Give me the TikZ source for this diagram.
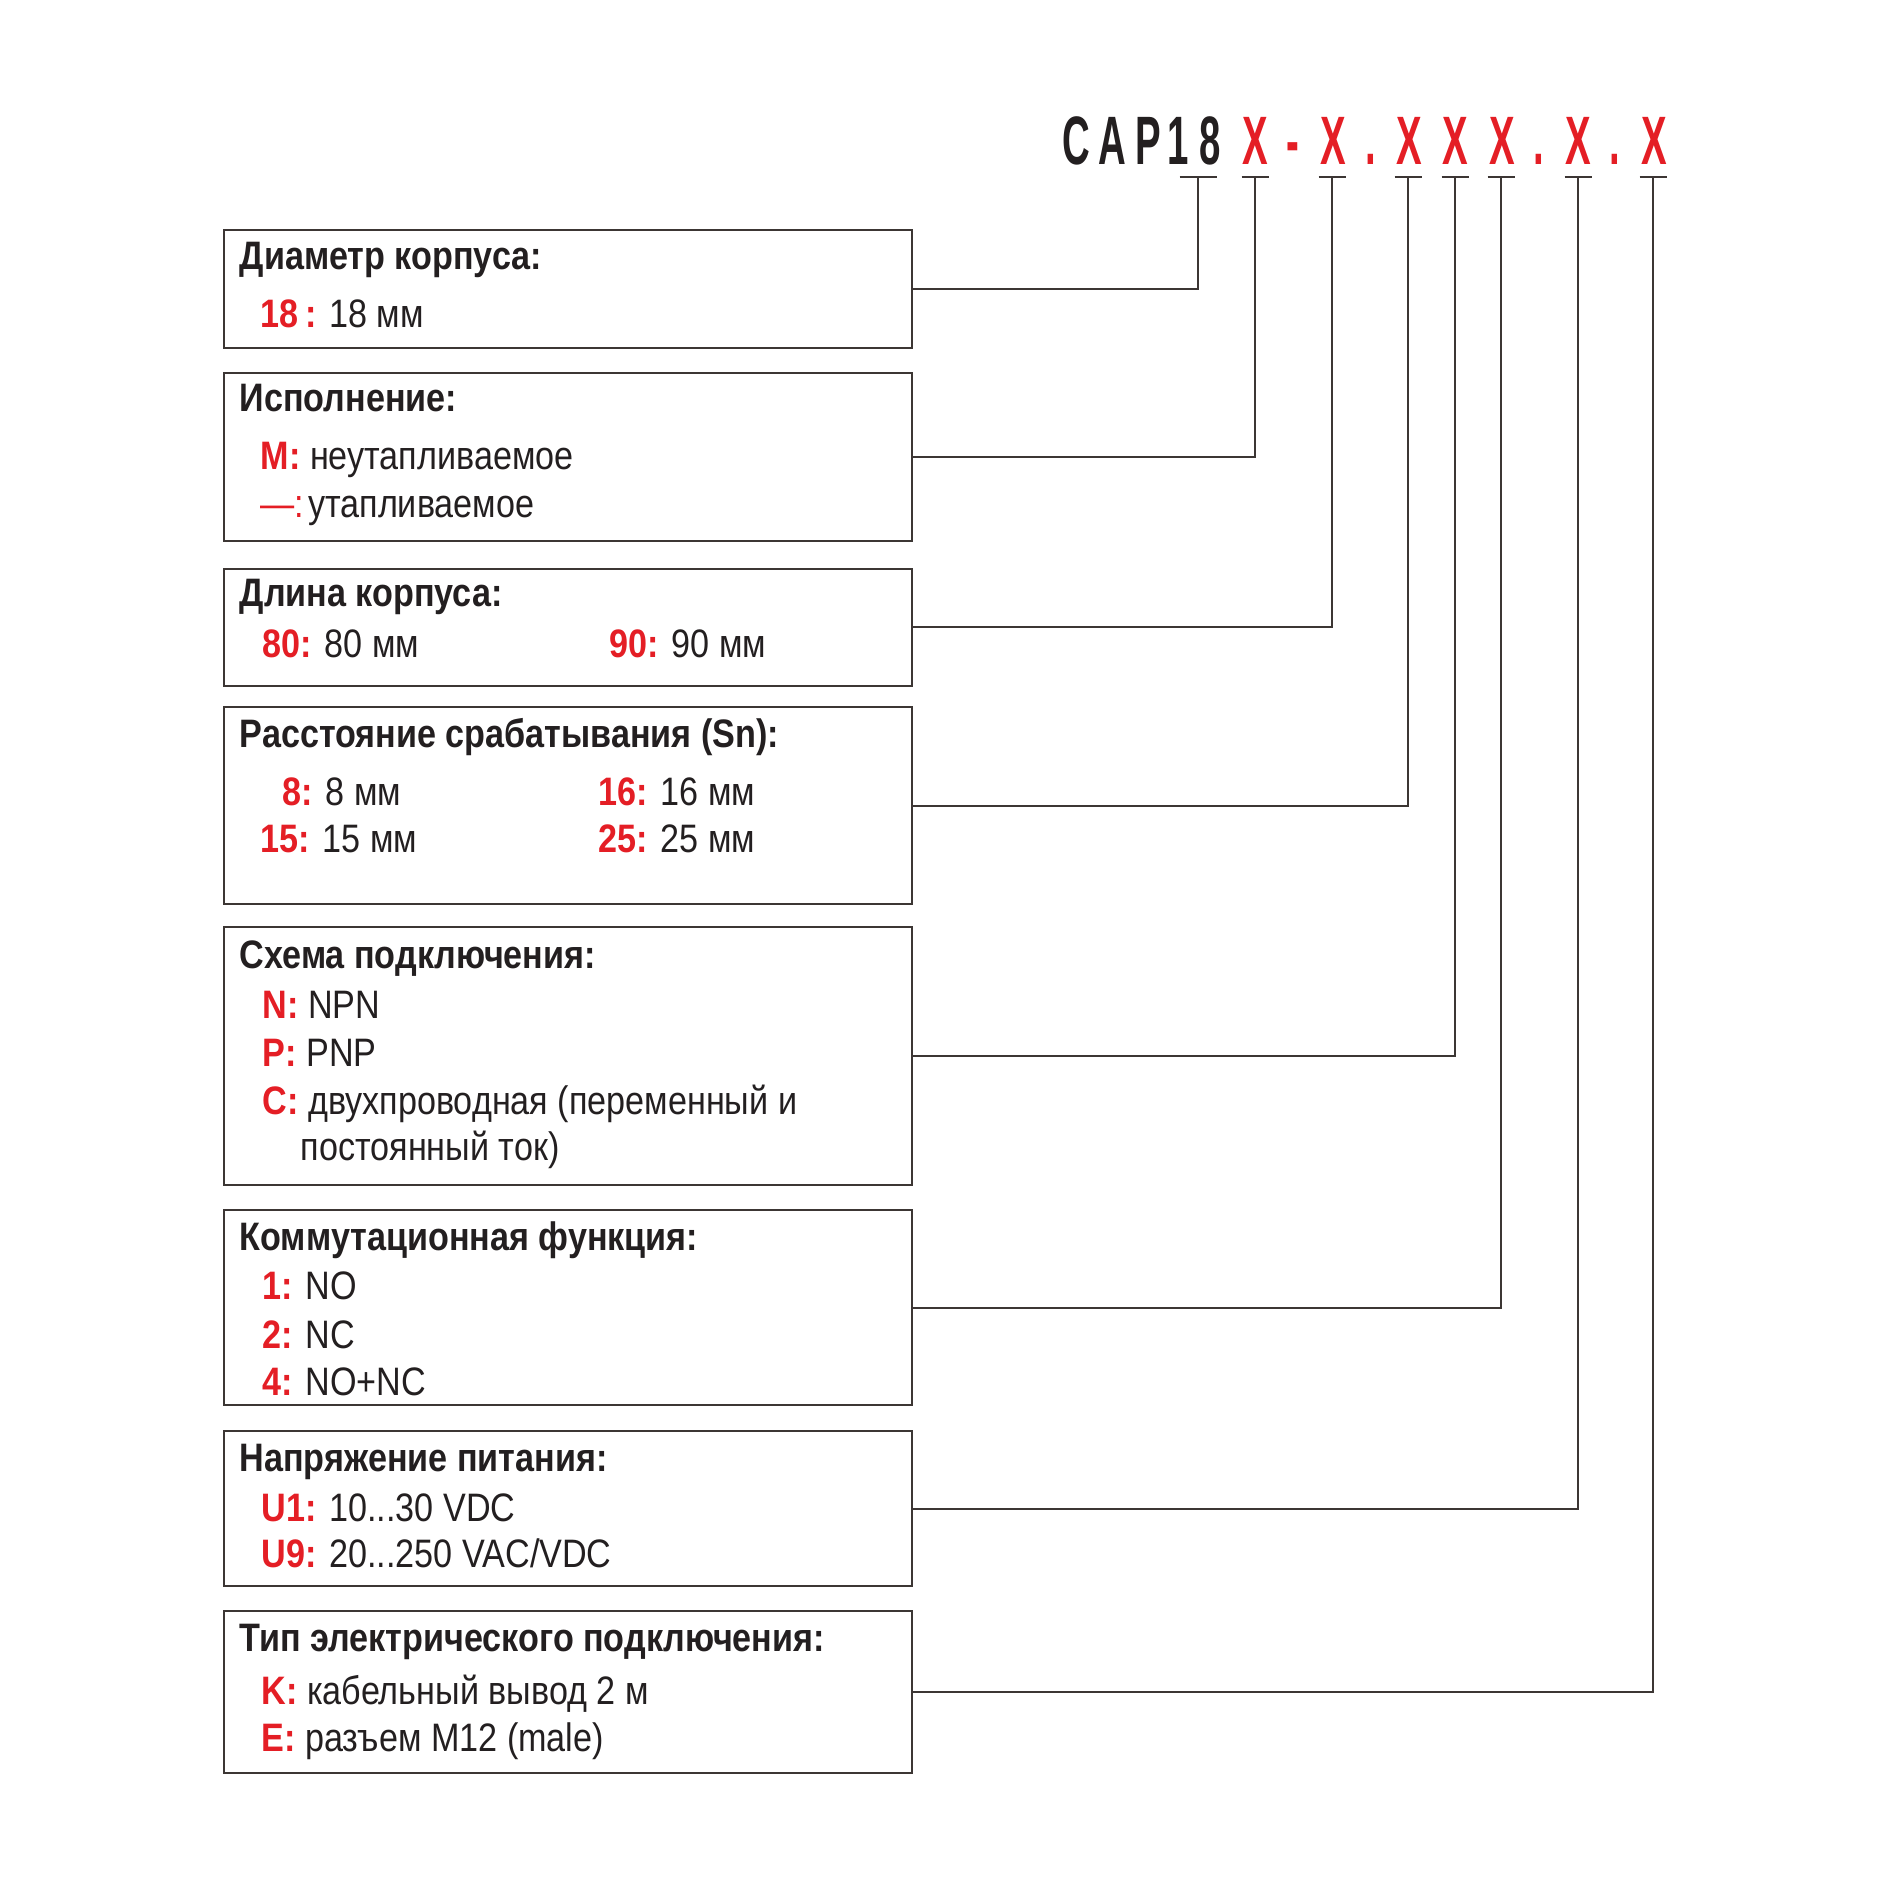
\documentclass[tikz,border=0pt]{standalone}
\usepackage{fontspec}
\setmainfont{Liberation Sans}[FakeStretch=0.86]
\newfontfamily\codefont{Liberation Sans}[FakeStretch=0.56]
\usepackage{xcolor}
\usepackage{tikz}
\definecolor{Cr}{RGB}{228,30,37}
\definecolor{Ct}{RGB}{35,31,32}
\definecolor{Cl}{RGB}{60,54,52}
\newcommand{\bodyfont}{\fontsize{11.3}{13.6}\selectfont}
\newcommand{\codekey}[1]{\textcolor{Cr}{\bfseries #1}}

\begin{document}
\begin{tikzpicture}[x=0.1mm,y=-0.1mm,
    selbox/.style={draw=Cl,line width=0.2mm,anchor=north west,minimum width=68.8mm,inner sep=0pt},
    link/.style={draw=Cl,line width=0.2mm},
    ttl/.style={anchor=base west,inner sep=0pt,text=Ct,font=\bodyfont\bfseries},
    itm/.style={anchor=base west,inner sep=0pt,text=Ct,font=\bodyfont},
    chr/.style={anchor=base,inner sep=0pt,font=\fontsize{19.5}{20}\codefont\bfseries}]
    \useasboundingbox (0,0) rectangle (1890,1890);
    % order code
    \foreach \x/\c/\col in {1076/C/Ct,1112/A/Ct,1148/P/Ct,1178/1/Ct,1210/8/Ct,
      1255/X/Cr,1293/-/Cr,1333/X/Cr,1371/./Cr,1409/X/Cr,1455/X/Cr,1502/X/Cr,
      1539/./Cr,1578/X/Cr,1615/./Cr,1654/X/Cr}{
      \node[chr,text=\col] at (\x,165) {\c};
    }
    \foreach \n/\x/\w in {1/1198/18.5,2/1255/13.5,3/1332/13.5,4/1408/13.5,
      5/1455/13.5,6/1501/13.5,7/1578/13.5,8/1653/13.5}{
      \coordinate (t\n) at (\x,177);
      \draw[link] (\x-\w,177) -- (\x+\w,177);
    }
    % boxes
    \node[selbox,minimum height=11.8mm] (bDiam) at (223,229) {};
    \node[selbox,minimum height=16.8mm] (bExec) at (223,372) {};
    \node[selbox,minimum height=11.7mm] (bLen) at (223,568) {};
    \node[selbox,minimum height=19.7mm] (bSn) at (223,706) {};
    \node[selbox,minimum height=25.8mm] (bWire) at (223,926) {};
    \node[selbox,minimum height=19.5mm] (bFunc) at (223,1209) {};
    \node[selbox,minimum height=15.5mm] (bVolt) at (223,1430) {};
    \node[selbox,minimum height=16.2mm] (bConn) at (223,1610) {};
    \foreach \b/\n in {bDiam/1,bExec/2,bLen/3,bSn/4,bWire/5,bFunc/6,bVolt/7,bConn/8}{
      \draw[link] (\b.east) -| (t\n);
    }
    % texts
    \node[ttl] (hDiam) at (239,270) {Диаметр корпуса:};
    \node[itm] (iDiam) at (260,328) {\codekey{18\,:} 18 мм};
    \node[ttl] (hExec) at (239,412) {Исполнение:};
    \node[itm] (iExecM) at (260,470) {\codekey{M:} неутапливаемое};
    \node[itm] (iExecD) at (260,518) {\textcolor{Cr}{—\kern-0.2pt:}\kern-1.4pt\ утапливаемое};
    \node[ttl] (hLen) at (239,607) {Длина корпуса:};
    \node[itm] (iLen80) at (262,658) {\codekey{80:} 80 мм};
    \node[itm] (iLen90) at (609,658) {\codekey{90:} 90 мм};
    \node[ttl] (hSn) at (239,747) {Расстояние срабатывания (Sn):};
    \node[itm] (iSn8) at (282,805) {\codekey{8:} 8 мм};
    \node[itm] (iSn16) at (598,805) {\codekey{16:} 16 мм};
    \node[itm] (iSn15) at (260,852) {\codekey{15:} 15 мм};
    \node[itm] (iSn25) at (598,852) {\codekey{25:} 25 мм};
    \node[ttl] (hWire) at (239,968) {Схема подключения:};
    \node[itm] (iWireN) at (262,1018) {\codekey{N:} NPN};
    \node[itm] (iWireP) at (262,1066) {\codekey{P:} PNP};
    \node[itm] (iWireC) at (262,1114) {\codekey{C:} двухпроводная (переменный и};
    \node[itm] (iWireC2) at (300,1160) {постоянный ток)};
    \node[ttl] (hFunc) at (239,1250) {Коммутационная функция:};
    \node[itm] (iFunc1) at (262,1299) {\codekey{1:} NO};
    \node[itm] (iFunc2) at (262,1348) {\codekey{2:} NC};
    \node[itm] (iFunc4) at (262,1395) {\codekey{4:} NO+NC};
    \node[ttl] (hVolt) at (239,1471) {Напряжение питания:};
    \node[itm] (iVolt1) at (261,1521) {\codekey{U1:} 10...30 VDC};
    \node[itm] (iVolt9) at (261,1567) {\codekey{U9:} 20...250 VAC/VDC};
    \node[ttl] (hConn) at (239,1651) {Тип электрического подключения:};
    \node[itm] (iConnK) at (261,1704) {\codekey{K:} кабельный вывод 2 м};
    \node[itm] (iConnE) at (261,1751) {\codekey{E:} разъем M12 (male)};
\end{tikzpicture}
\end{document}
